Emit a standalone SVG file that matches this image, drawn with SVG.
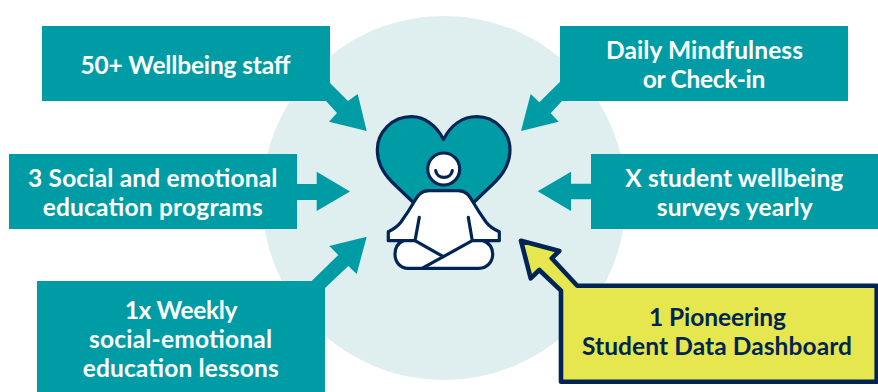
<svg xmlns="http://www.w3.org/2000/svg" width="878" height="392" viewBox="0 0 878 392">
<style>
.box{fill:#009ca6}
.w,.n{font-family:"Lato","Liberation Sans",sans-serif;font-weight:700;font-size:24.5px;text-anchor:middle}
.w{fill:#fff}
.n{fill:#002554}
.o{stroke:#002554;stroke-width:3.2;stroke-linejoin:round;stroke-linecap:round}
</style>
<rect width="878" height="392" fill="#fff"/>
<circle id="backdrop" cx="444" cy="198" r="182" fill="#dfeeef"/>
<g id="connectors">
<polygon class="box" points="320,73 330,83 348,101 357.7,94 366.7,131 329,121.7 337,113 326,101"/>
<polygon class="box" points="297,184 316.7,184 316.7,171.7 350,191.5 316.7,211 316.7,200 297,200"/>
<polygon class="box" points="311.7,281 338.3,255 329.3,246 366.7,236.7 356.7,274 348.3,266 325,288 320,295"/>
<polygon class="box" points="570,72 539.3,102.3 530.7,94 521,131 558.7,121.7 550.7,113.3 562,101 575,90"/>
<polygon class="box" points="591,183.7 571,183.7 571,171.7 537.7,191.3 571,211 571,199.3 591,199.3"/>
</g>
<g id="n1"><rect class="box" x="42" y="26" width="288" height="75"/><text class="w" x="185.5" y="74" textLength="210">50+ Wellbeing staff</text></g>
<g id="n2"><rect class="box" x="560" y="26" width="288" height="75"/><text class="w" x="704.5" y="58.5" textLength="197">Daily Mindfulness</text><text class="w" x="704" y="87.5" textLength="122.7">or Check-in</text></g>
<g id="n3"><rect class="box" x="9" y="154" width="288" height="75"/><text class="w" x="152.7" y="186.7" textLength="249.3">3 Social and emotional</text><text class="w" x="152.7" y="216" textLength="220">education programs</text></g>
<g id="n4"><rect class="box" x="591" y="154" width="287" height="75"/><text class="w" x="734.3" y="187" textLength="218">X student wellbeing</text><text class="w" x="734.7" y="216" textLength="156">surveys yearly</text></g>
<g id="n5"><rect class="box" x="37" y="281" width="288" height="111"/><text class="w" x="181" y="319" textLength="112.7">1x Weekly</text><text class="w" x="180.5" y="348" textLength="183">social-emotional</text><text class="w" x="180.7" y="377.3" textLength="196">education lessons</text></g>
<g id="n6"><path d="M521 240.7L559.3 251 551.7 258.3 577.3 285.7H876.7V381.7H561V290.7L539.3 270 530.7 278.3Z" fill="#e6e64f" stroke="#002554" stroke-width="4.6" stroke-linejoin="round"/><text class="n" x="717.5" y="326" textLength="137">1 Pioneering</text><text class="n" x="717" y="354.7" textLength="270">Student Data Dashboard</text></g>
<g id="figure">
<path class="o" d="M443.5 139.5C436 125 424 116.7 411.7 116.7C392 116.7 377.3 132 377.3 150C377.3 164 384 174 392 182L416 205H471L495 182C503 174 510 164 510 150C510 132 495 116.7 476.7 116.7C463 116.7 451 125 443.5 139.5Z" fill="#009ca6"/>
<path class="o" d="M388.3 240.7V231.7C394 229 398 226 401 222C406 215 410 209 414 202C418 195 421 190.7 429 190.7H458C466 190.7 469 195 473 202C477 209 481 215 486 222C489 226 493 229 499.3 231.7V240.7H483.3C489 243 492.7 248 492.7 254C492.7 262 487 268.3 479 268.3H408C400 268.3 395 262 395 254C395 248 398 243 403.3 240.7Z" fill="#fff"/>
<circle class="o" cx="443.7" cy="169" r="16" fill="#fff"/>
<path class="o" d="M435.7 170.7C437 179.5 451 179.5 452.3 170.7" fill="none"/>
<path class="o" d="M419.3 217.3L415 240.7L443.3 256.7M468.3 217.3L472.3 240.7L423.3 267.7M403.3 240.7H415M472.3 240.7H483.3" fill="none"/>
</g>
</svg>
